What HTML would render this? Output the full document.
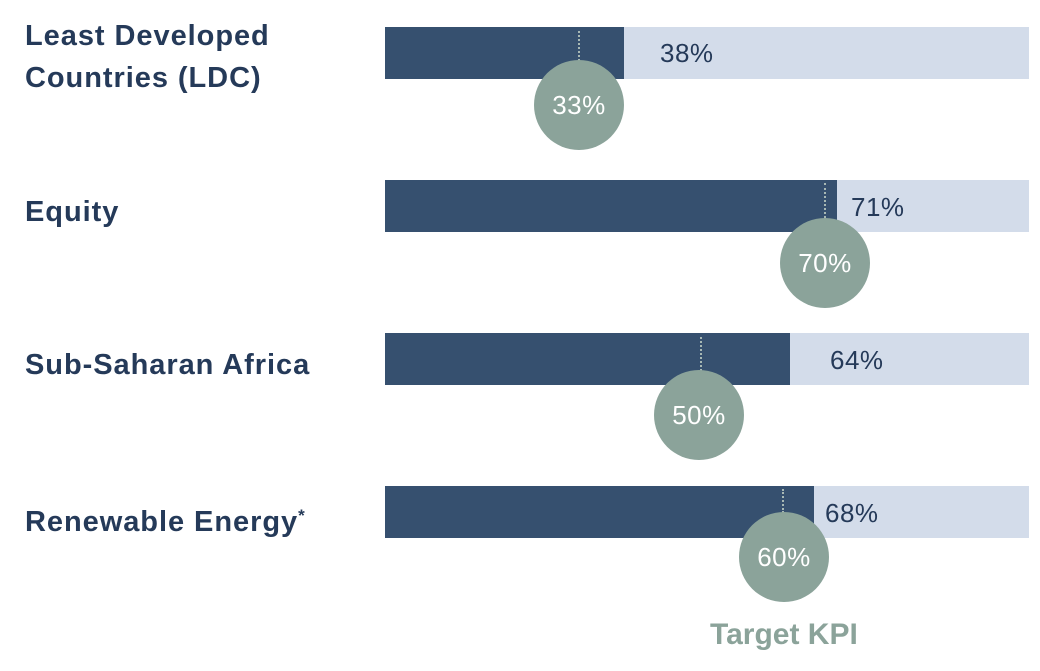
<!DOCTYPE html>
<html><head><style>
body{margin:0;width:1040px;height:671px;background:#fff;position:relative;overflow:hidden;font-family:"Liberation Sans",sans-serif}
.l{position:absolute;left:25px;font-weight:bold;font-size:29px;color:#253a59;line-height:42px;letter-spacing:0.95px;white-space:nowrap}
.bg{position:absolute;left:385px;width:644px;height:52px;background:#d3dcea}
.fg{position:absolute;left:385px;height:52px;background:#36506f}
.v{position:absolute;font-size:26px;color:#253a59;letter-spacing:0.5px}
.d{position:absolute;width:0;border-left:2px dotted #a8b8b4}
.c{position:absolute;width:90px;height:90px;border-radius:50%;background:#8ba39a;color:#fff;font-size:26px;text-align:center;line-height:90px;letter-spacing:0.5px}
</style></head><body>
<div class="l" style="top:15px">Least Developed<br>Countries (LDC)</div>
<div class="l" style="top:191px">Equity</div>
<div class="l" style="top:344px">Sub-Saharan Africa</div>
<div class="l" style="top:495px">Renewable Energy<sup style="font-size:17px;vertical-align:10px">*</sup></div>

<div class="bg" style="top:27px"></div><div class="fg" style="top:27px;width:239px"></div>
<div class="v" style="left:660px;top:38px">38%</div>
<div class="d" style="left:578px;top:31px;height:30px"></div>
<div class="c" style="left:534px;top:60px">33%</div>

<div class="bg" style="top:180px"></div><div class="fg" style="top:180px;width:452px"></div>
<div class="v" style="left:851px;top:192px">71%</div>
<div class="d" style="left:824px;top:183px;height:35px"></div>
<div class="c" style="left:780px;top:218px">70%</div>

<div class="bg" style="top:333px"></div><div class="fg" style="top:333px;width:405px"></div>
<div class="v" style="left:830px;top:345px">64%</div>
<div class="d" style="left:700px;top:337px;height:34px"></div>
<div class="c" style="left:654px;top:370px">50%</div>

<div class="bg" style="top:486px"></div><div class="fg" style="top:486px;width:429px"></div>
<div class="v" style="left:825px;top:498px">68%</div>
<div class="d" style="left:782px;top:489px;height:24px"></div>
<div class="c" style="left:739px;top:512px">60%</div>

<div style="position:absolute;left:710px;top:618px;font-weight:bold;font-size:30px;letter-spacing:0px;color:#8ba39a">Target KPI</div>
</body></html>
